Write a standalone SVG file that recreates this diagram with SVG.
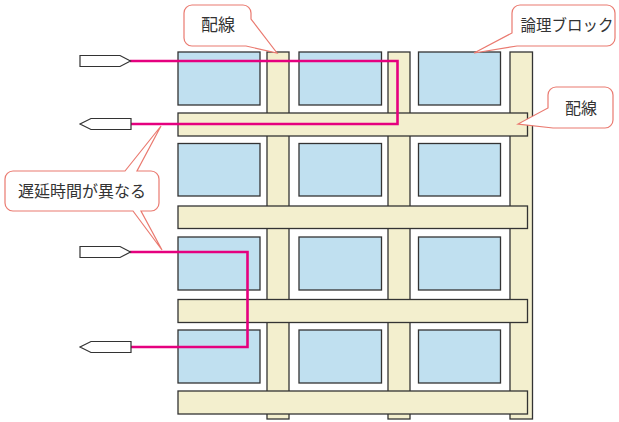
<svg xmlns="http://www.w3.org/2000/svg" width="619" height="422" viewBox="0 0 619 422">
<style>
.blk{fill:#c0e0f0;stroke:#333;stroke-width:1.3}
.wire{fill:#f3efce;stroke:#333;stroke-width:1.3}
.sig{fill:none;stroke:#e5007f;stroke-width:2.6}
.pin{fill:#fff;stroke:#333;stroke-width:1.2}
.call{fill:#fff;stroke:#ea7a70;stroke-width:1.2}
.lbl{font-family:"Noto Sans CJK JP","Noto Sans",sans-serif;font-size:16px;fill:#333;text-anchor:middle}
</style>
<rect width="619" height="422" fill="#fff"/>
<g id="wires-vertical">
<rect class="wire" x="267" y="52" width="22" height="367"/>
<rect class="wire" x="388" y="52" width="22" height="367"/>
<rect class="wire" x="510" y="52" width="22.5" height="367"/>
</g>
<g id="blocks">
<rect class="blk" x="178" y="52" width="82" height="53"/>
<rect class="blk" x="299" y="52" width="82.5" height="53"/>
<rect class="blk" x="418.5" y="52" width="82" height="53"/>
<rect class="blk" x="178" y="143.5" width="82" height="52.5"/>
<rect class="blk" x="299" y="143.5" width="82.5" height="52.5"/>
<rect class="blk" x="418.5" y="143.5" width="82" height="52.5"/>
<rect class="blk" x="178" y="237" width="82" height="53"/>
<rect class="blk" x="299" y="237" width="82.5" height="53"/>
<rect class="blk" x="418.5" y="237" width="82" height="53"/>
<rect class="blk" x="178" y="330" width="82" height="53"/>
<rect class="blk" x="299" y="330" width="82.5" height="53"/>
<rect class="blk" x="418.5" y="330" width="82" height="53"/>
</g>
<g id="wires-horizontal">
<rect class="wire" x="178" y="113" width="349.5" height="23"/>
<rect class="wire" x="178" y="206" width="349.5" height="22.5"/>
<rect class="wire" x="178" y="299.5" width="349.5" height="23"/>
<rect class="wire" x="178" y="391" width="349.5" height="23"/>
</g>
<g id="connectors">
<polyline class="sig" points="130,61 397.5,61 397.5,124 130,124"/>
<polyline class="sig" points="130,252 247.5,252 247.5,347 130,347"/>
</g>
<g id="pins">
<polygon class="pin" points="80,55.5 120,55.5 130.5,61 120,66.5 80,66.5"/>
<polygon class="pin" points="131,118.5 91,118.5 80,124 91,129.5 131,129.5"/>
<polygon class="pin" points="80,246.5 120,246.5 130.5,252 120,257.5 80,257.5"/>
<polygon class="pin" points="131,341.5 91,341.5 80,347 91,352.5 131,352.5"/>
</g>
<g id="callout-wire-top">
<path class="call" d="M192,5 H243 A8,8 0 0 1 251,13 V19 L277,53 L246,46 H192 A8,8 0 0 1 184,38 V13 A8,8 0 0 1 192,5 Z"/>
<text class="lbl" x="218" y="31" style="font-size:17px">配線</text>
</g>
<g id="callout-logic">
<path class="call" d="M520,5 H607 A8,8 0 0 1 615,13 V38 A8,8 0 0 1 607,46 H517 L474,53 L512,33 V13 A8,8 0 0 1 520,5 Z"/>
<text class="lbl" x="567" y="31" style="font-size:15.5px">論理ブロック</text>
</g>
<g id="callout-wire-right">
<path class="call" d="M556,87 H605 A8,8 0 0 1 613,95 V120 A8,8 0 0 1 605,128 H553 L518,124 L548,108 V95 A8,8 0 0 1 556,87 Z"/>
<text class="lbl" x="581" y="114">配線</text>
</g>
<g id="callout-delay">
<path class="call" d="M13,171 H125 L161,126 L137,171 H151 A8,8 0 0 1 159,179 V203 A8,8 0 0 1 151,211 H141 L162,250 L133,211 H13 A8,8 0 0 1 5,203 V179 A8,8 0 0 1 13,171 Z"/>
<text class="lbl" x="82" y="197">遅延時間が異なる</text>
</g>
</svg>
